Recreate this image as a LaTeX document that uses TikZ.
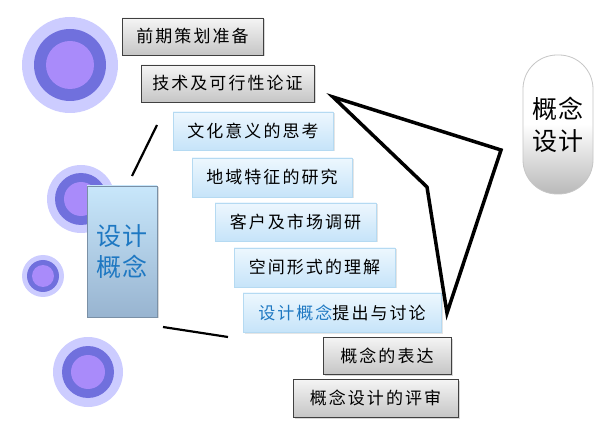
\documentclass[tikz,border=0pt]{standalone}
\usepackage{fontspec}
\newfontfamily\cjk[LetterSpace=12]{Noto Sans CJK SC}
\newfontfamily\cjkbig[LetterSpace=6]{Noto Sans CJK SC}
\usetikzlibrary{shadows}
\definecolor{outerc}{HTML}{CCCCFF}
\definecolor{midc}{HTML}{7070DD}
\definecolor{innerc}{HTML}{A98BFA}
\definecolor{tblue}{HTML}{1E78C2}
\definecolor{bdblue}{HTML}{B5DAF2}
\definecolor{bltop}{HTML}{EDF7FE}
\definecolor{blbot}{HTML}{C6E4F9}
\definecolor{cbtop}{HTML}{C8E7FB}
\definecolor{cbbot}{HTML}{98B4D0}
\tikzset{
  graybox/.style={draw=black!75, line width=0.9pt, top color=gray!8, bottom color=gray!45,
    minimum height=37pt, inner sep=0pt, font=\cjk\fontsize{17}{20}\selectfont,
    drop shadow={shadow xshift=1.5pt, shadow yshift=-1.5pt, opacity=0.3}},
  bluebox/.style={draw=bdblue, line width=0.8pt, top color=bltop, bottom color=blbot,
    minimum height=38pt, inner sep=0pt, font=\cjk\fontsize{17}{20}\selectfont,
    drop shadow={shadow xshift=1.5pt, shadow yshift=-1.5pt, opacity=0.2}},
  polyline/.style={line width=3.5pt, line join=miter},
  thinline/.style={line width=2.2pt},
}
\begin{document}
\begin{tikzpicture}[x=1pt,y=-1pt]
\useasboundingbox (0,0) rectangle (605,438);
\fill[white] (0,0) rectangle (605,438);
% circles
\foreach \n/\cx/\cy/\ro/\rm/\ri in {c1/70/65/48/36/24, c2/81/199/34/26/17, c3/43/276/21/16/11, c4/88/372/35/26/17}{
  \fill[outerc] (\cx,\cy) circle[radius=\ro];
  \fill[midc] (\cx,\cy) circle[radius=\rm];
  \fill[innerc] (\cx,\cy) circle[radius=\ri];
}
% concept box
\node[draw=cbbot!80!black, line width=0.8pt, top color=cbtop, bottom color=cbbot,
  minimum width=70pt, minimum height=131pt, inner sep=0pt, align=center,
  font=\cjkbig\fontsize{25}{31}\selectfont, text=tblue,
  drop shadow={shadow xshift=1.5pt, shadow yshift=-1.5pt, opacity=0.3}]
  (concept) at (122,251.5) {设计\\概念};
% gray boxes
\node[graybox, minimum width=141pt] (pre) at (192.5,36.5) {前期策划准备};
\node[graybox, minimum width=173pt] (tech) at (227.5,83.5) {技术及可行性论证};
\node[graybox, minimum width=128pt] (biao) at (387,355.5) {概念的表达};
\node[graybox, minimum width=165pt, minimum height=38pt] (ping) at (375.5,398) {概念设计的评审};
% blue boxes
\node[bluebox, minimum width=160pt] (wen) at (253,131) {文化意义的思考};
\node[bluebox, minimum width=160pt, minimum height=39pt] (di) at (272,177.5) {地域特征的研究};
\node[bluebox, minimum width=161pt] (ke) at (295.5,222) {客户及市场调研};
\node[bluebox, minimum width=161pt, minimum height=39pt] (kong) at (314.5,267.5) {空间形式的理解};
\node[bluebox, minimum width=198pt, minimum height=39pt] (she) at (342,312.5) {{\color{tblue}设计概念}提出与讨论};
% pill
\node[draw=gray!45, line width=0.8pt, rounded corners=34pt, top color=white, bottom color=gray!55,
  middle color=white, minimum width=70pt, minimum height=139pt, inner sep=0pt, align=center,
  font=\cjkbig\fontsize{25}{32}\selectfont] (pill) at (558,124.5) {概念\\设计};
% polygon
\coordinate (p1) at (333,97);
\coordinate (p2) at (501,150);
\coordinate (p3) at (447,313);
\coordinate (p4) at (427,187);
\draw[polyline] (p1) -- (p2) -- (p3) -- (p4) -- cycle;
% lines
\coordinate (l1a) at (157,125);
\coordinate (l1b) at (132,176);
\draw[thinline] (l1a) -- (l1b);
\coordinate (l2a) at (163,327);
\coordinate (l2b) at (228,337);
\draw[thinline] (l2a) -- (l2b);
\end{tikzpicture}
\end{document}
